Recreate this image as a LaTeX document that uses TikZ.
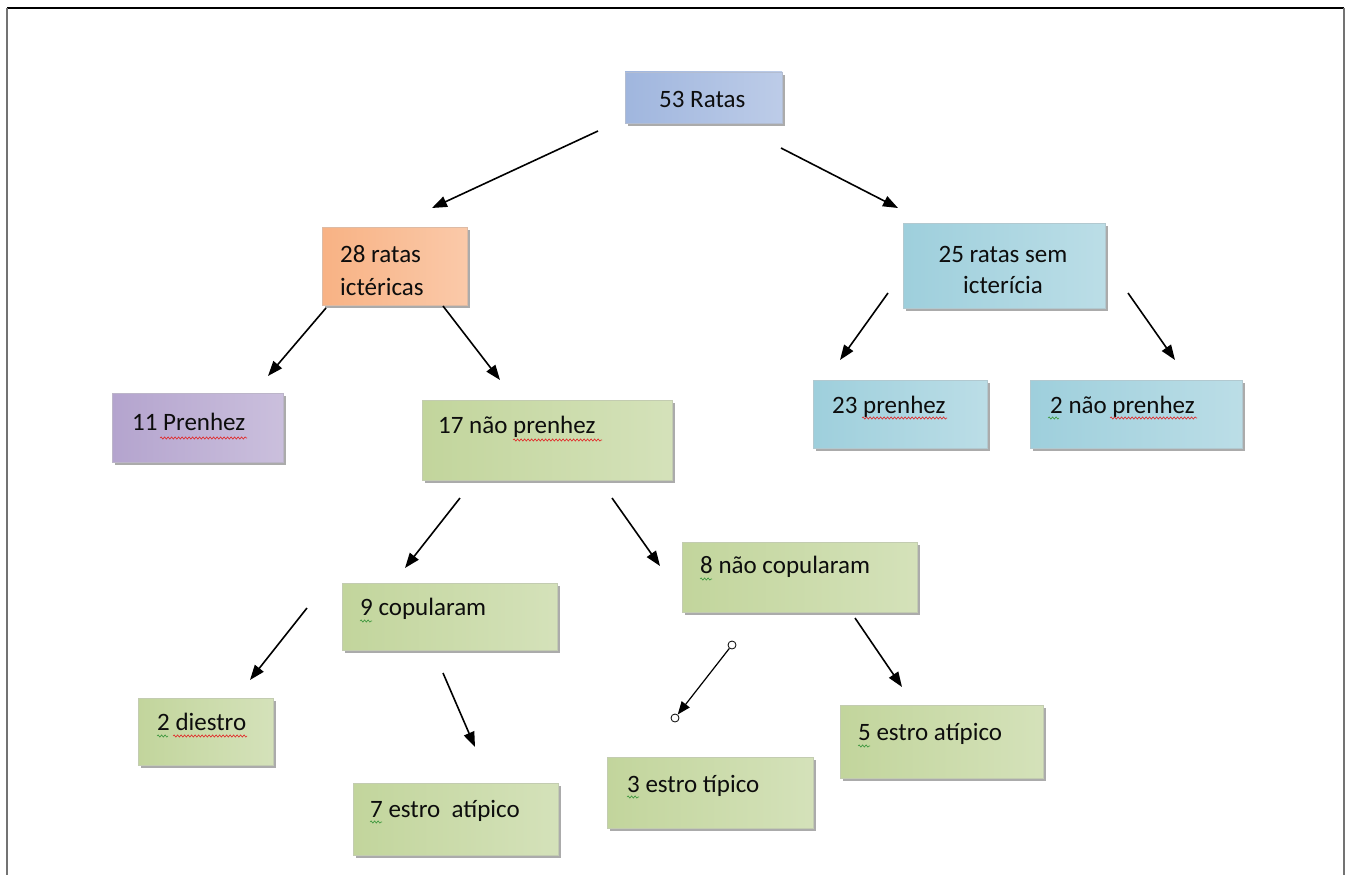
\documentclass[tikz,border=0pt]{standalone}
\usepackage{fontspec}
\setmainfont{Carlito}
\usetikzlibrary{arrows.meta,shadows,decorations.pathmorphing}
\definecolor{cTop}{RGB}{160,182,222}
\definecolor{cOrange}{RGB}{248,178,132}
\definecolor{cCyan}{RGB}{158,207,220}
\definecolor{cPurple}{RGB}{180,164,206}
\definecolor{cGreen}{RGB}{194,213,156}
\definecolor{cSpell}{RGB}{225,40,40}
\definecolor{cGram}{RGB}{60,150,60}
\tikzset{
  box/.style={rectangle, draw=#1!80!black!60, line width=0.5pt,
    left color=#1, middle color=#1!25!white, right color=#1!70!white,
    drop shadow={shadow xshift=3pt, shadow yshift=-3pt, fill=black!55, opacity=0.6}},
  txt/.style={font=\fontsize{25}{33}\selectfont, anchor=base west, inner sep=0pt, text=black!95},
  arr/.style={line width=1.6pt, -{Triangle[length=15pt,width=11pt]}},
  selarr/.style={line width=1.2pt, -{Triangle[length=13pt,width=10pt]}},
  handle/.style={circle, draw=black, fill=white, line width=0.8pt, minimum size=8pt, inner sep=0pt},
  spell/.style={cSpell, line width=0.6pt, decorate, decoration={snake, amplitude=1.1pt, segment length=3.5pt}},
  gram/.style={cGram, line width=0.6pt, decorate, decoration={snake, amplitude=1.1pt, segment length=3.5pt}},
}
\begin{document}
\begin{tikzpicture}[x=1pt,y=-1pt]
\useasboundingbox[fill=white] (0,0) rectangle (1347,875);
% frame
\draw[line width=1.5pt] (7,8) -- (1344,8);
\draw[black!55, line width=2pt] (7,8) -- (7,875);
\draw[black!55, line width=2pt] (1344,8) -- (1344,875);

% boxes
\node[box=cTop, minimum width=157pt, minimum height=51pt] (r53) at (703.5,97.5) {};
\node[box=cOrange, minimum width=145pt, minimum height=78pt] (r28) at (394.5,266) {};
\node[box=cCyan, minimum width=202pt, minimum height=85pt] (r25) at (1004,265.5) {};
\node[box=cPurple, minimum width=171pt, minimum height=69pt] (p11) at (197.5,427.5) {};
\node[box=cGreen, minimum width=250pt, minimum height=80pt] (n17) at (547,440) {};
\node[box=cCyan, minimum width=174pt, minimum height=68pt] (p23) at (900,414) {};
\node[box=cCyan, minimum width=212pt, minimum height=68pt] (n2) at (1136,414) {};
\node[box=cGreen, minimum width=215pt, minimum height=67pt] (c9) at (449.5,616.5) {};
\node[box=cGreen, minimum width=235pt, minimum height=70pt] (c8) at (799.5,577) {};
\node[box=cGreen, minimum width=135pt, minimum height=67pt] (d2) at (205.5,731.5) {};
\node[box=cGreen, minimum width=205pt, minimum height=72pt] (e7) at (455.5,819) {};
\node[box=cGreen, minimum width=206pt, minimum height=71pt] (e3) at (710,792.5) {};
\node[box=cGreen, minimum width=203pt, minimum height=73pt] (e5) at (941.5,741.5) {};

% texts
\node[txt] (t53) at (659,107) {53 Ratas};
\node[txt] (t28a) at (340,262) {28 ratas};
\node[txt] (t28b) at (340,295) {ictéricas};
\node[txt, anchor=base] (t25a) at (1003,262) {25 ratas sem};
\node[txt, anchor=base] (t25b) at (1003,293) {icterícia};
\node[txt] (t11) at (132,430) {11 Prenhez};
\node[txt] (t17) at (438,433) {17 não prenhez};
\node[txt] (t23) at (832,413) {23 prenhez};
\node[txt] (t2n) at (1050,413) {2 não prenhez};
\node[txt] (t9) at (360,615) {9 copularam};
\node[txt] (t8) at (700,573) {8 não copularam};
\node[txt] (t2d) at (157,730) {2 diestro};
\node[txt] (t7) at (370,817) {7 estro~ atípico};
\node[txt] (t3) at (627,792) {3 estro típico};
\node[txt] (t5) at (858,740) {5 estro atípico};

% spelling marks
\draw[spell] (160,438) -- (247,438);
\draw[spell] (513,440) -- (602,440);
\draw[spell] (862,418) -- (947,418);
\draw[gram] (1048,418) -- (1059,418);
\draw[spell] (1110,418) -- (1197,418);
\draw[gram] (360,621) -- (372,621);
\draw[gram] (157,736) -- (168,736);
\draw[spell] (173,736) -- (247,736);
\draw[gram] (370,822) -- (382,822);
\draw[gram] (627,797) -- (639,797);
\draw[gram] (700,579) -- (712,579);
\draw[gram] (858,746) -- (870,746);

% arrow end points
\coordinate (a1s) at (598,131); \coordinate (a1e) at (432,208);
\coordinate (a2s) at (781,148); \coordinate (a2e) at (898,208);
\coordinate (a3s) at (326,308); \coordinate (a3e) at (268,376);
\coordinate (a4s) at (443,306); \coordinate (a4e) at (500,380);
\coordinate (a5s) at (888,293); \coordinate (a5e) at (840,360);
\coordinate (a6s) at (1128,293); \coordinate (a6e) at (1175,360);
\coordinate (a7s) at (460,498); \coordinate (a7e) at (405,568);
\coordinate (a8s) at (612,498); \coordinate (a8e) at (660,566);
\coordinate (a9s) at (307,608); \coordinate (a9e) at (250,680);
\coordinate (a10s) at (443,673); \coordinate (a10e) at (475,747);
\coordinate (a12s) at (855,618); \coordinate (a12e) at (902,687);
\node[handle] (h1) at (732,645) {};
\node[handle] (h2) at (675,718) {};

\draw[arr] (a1s) -- (a1e);
\draw[arr] (a2s) -- (a2e);
\draw[arr] (a3s) -- (a3e);
\draw[arr] (a4s) -- (a4e);
\draw[arr] (a5s) -- (a5e);
\draw[arr] (a6s) -- (a6e);
\draw[arr] (a7s) -- (a7e);
\draw[arr] (a8s) -- (a8e);
\draw[arr] (a9s) -- (a9e);
\draw[arr] (a10s) -- (a10e);
\draw[arr] (a12s) -- (a12e);
\draw[selarr] (h1) -- (h2);
\end{tikzpicture}
\end{document}
